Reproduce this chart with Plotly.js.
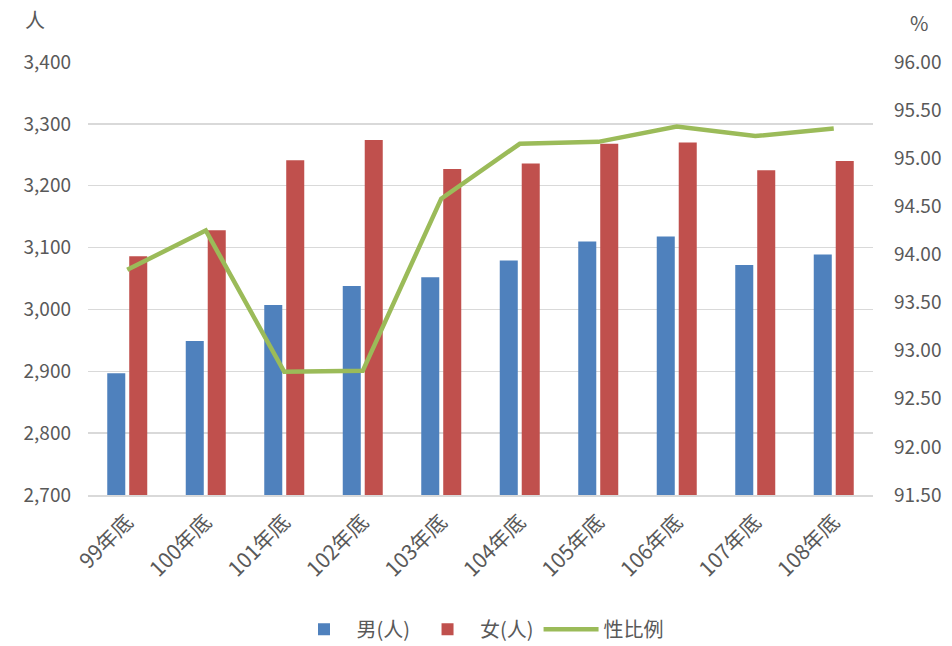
<!DOCTYPE html>
<html>
<head>
<meta charset="utf-8">
<script src="https://cdn.plot.ly/plotly-3.0.1.min.js"></script>
<style>html,body{margin:0;padding:0;background:#fff;}#chart{width:952px;height:646px;}</style>
</head>
<body>
<div id="chart"></div>
<script>
const categories = ["99年底","100年底","101年底","102年底","103年底","104年底","105年底","106年底","107年底","108年底"];
const male = [2897, 2949, 3007, 3038, 3052, 3079, 3110, 3118, 3072, 3089];
const female = [3086, 3128, 3241, 3274, 3227, 3236, 3268, 3270, 3225, 3240];
const sexRatio = [93.84, 94.25, 92.78, 92.79, 94.58, 95.15, 95.17, 95.33, 95.23, 95.31];
const leftTicks = [2700, 2800, 2900, 3000, 3100, 3200, 3300, 3400];
const rightTicks = [91.5, 92, 92.5, 93, 93.5, 94, 94.5, 95, 95.5, 96];

const FONT = '"Noto Sans CJK TC", "Noto Sans", sans-serif';
const GRAY = '#595959';

const traces = [
  {type:'bar', name:'男(人)', x:categories, y:male, marker:{color:'#4F81BD'}, hoverinfo:'y'},
  {type:'bar', name:'女(人)', x:categories, y:female, marker:{color:'#C0504D'}, hoverinfo:'y'},
  {type:'scatter', mode:'lines', name:'性比例', x:categories, y:sexRatio, yaxis:'y2',
   line:{color:'#9BBB59', width:4.5}}
];

const layout = {
  width:952, height:646,
  margin:{l:88, r:79, t:62, b:151, autoexpand:false},
  paper_bgcolor:'#fff', plot_bgcolor:'#fff',
  font:{family:FONT, color:GRAY, size:19},
  barmode:'group', bargap:0.44, bargroupgap:0.18,
  showlegend:true,
  legend:{orientation:'h', x:0.5, xanchor:'center', y:-0.31, yanchor:'middle',
          font:{size:20, color:GRAY}, itemwidth:55, traceorder:'normal'},
  xaxis:{type:'category', tickangle:-45, showgrid:false, showline:true, linecolor:'#d9d9d9', linewidth:1.5,
         ticks:'', automargin:false, ticklabelstandoff:5, tickfont:{size:21, color:GRAY}, fixedrange:true},
  yaxis:{range:[2700,3400], tickvals:leftTicks, tickformat:',', showgrid:true, gridcolor:'#d9d9d9', gridwidth:1.5,
         zeroline:false, showline:false, ticks:'', automargin:false, ticklabelstandoff:16, tickfont:{size:19, color:GRAY}},
  yaxis2:{range:[91.5,96], tickvals:rightTicks, tickformat:'.2f', overlaying:'y', side:'right', showgrid:false,
          zeroline:false, showline:false, ticks:'', automargin:false, ticklabelstandoff:20, tickfont:{size:19, color:GRAY}},
  annotations:[
    {text:'人', xref:'paper', yref:'paper', x:-0.067, y:1.098, xanchor:'center', yanchor:'middle', showarrow:false,
     font:{size:20, color:GRAY}},
    {text:'%', xref:'paper', yref:'paper', x:1.058, y:1.092, xanchor:'center', yanchor:'middle', showarrow:false,
     font:{size:20, color:GRAY}}
  ]
};

Plotly.newPlot('chart', traces, layout, {displayModeBar:false, staticPlot:true});
</script>
</body>
</html>
